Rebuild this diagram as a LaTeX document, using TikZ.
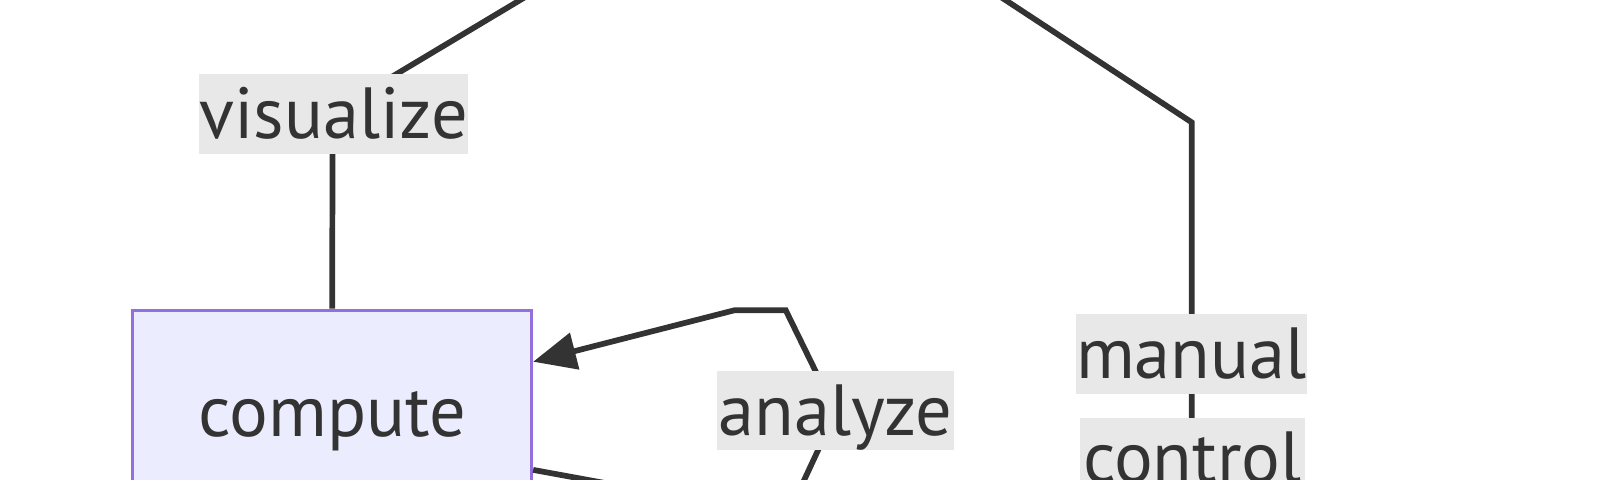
\documentclass[tikz,border=0pt]{standalone}
\usepackage{fontspec}
\setmainfont{PT Sans}
\usetikzlibrary{arrows.meta}
\definecolor{linec}{HTML}{333333}
\definecolor{lblbg}{HTML}{E8E8E8}
\definecolor{nodefill}{HTML}{ECECFF}
\definecolor{nodestroke}{HTML}{9370DB}
\tikzset{
  edge/.style={draw=linec, line width=2.8pt, line join=miter},
  arrowedge/.style={edge, -{Triangle[length=21pt,width=18pt]}},
  lbl/.style={fill=lblbg, text=linec, inner sep=0pt, text height=30pt, text depth=6pt,
    font=\fontsize{35.5}{38}\selectfont},
  procbox/.style={draw=nodestroke, fill=nodefill, line width=1.5pt, text=linec, inner sep=0pt,
    text height=30pt, text depth=6pt, font=\fontsize{35.5}{38}\selectfont},
}
\begin{document}
\begin{tikzpicture}[x=0.5pt,y=-0.5pt]
\useasboundingbox (0,0) rectangle (1568,470);
\clip (0,0) rectangle (1568,470);
\fill[white] (0,0) rectangle (1568,470);
% coordinates for off-picture ends
\coordinate (visTop) at (677,-100);
\coordinate (visBend) at (326,110);
\coordinate (anBottom) at (772,505);
\coordinate (anMid) at (819,404);
\coordinate (anC1) at (770,304);
\coordinate (anC2) at (720,304);
\coordinate (outEnd) at (640,482);
\coordinate (manTop) at (833,-100);
\coordinate (manBend) at (1168,120);
\coordinate (manBottom) at (1168,560);
% node
\node[procbox, minimum width=195.5pt, minimum height=100pt] (compute) at (325.5,404) {compute};
% edges
\draw[edge] (compute.north) -- (visBend) -- (visTop);
\draw[arrowedge] (anBottom) -- (anMid) -- (anC1) -- (anC2) -- ([yshift=-26pt]compute.north east);
\draw[edge] ([yshift=-79pt]compute.north east) -- (outEnd);
\draw[edge] (manTop) -- (manBend) -- (manBottom);
% labels
\node[lbl, minimum width=132pt, minimum height=39pt] (vis) at (327,112) {visualize};
\node[lbl, minimum width=116pt, minimum height=38.5pt] (an) at (819,402.5) {analyze};
\node[lbl, minimum width=111.5pt, minimum height=39pt] (man) at (1167.5,347) {manual};
\node[lbl, minimum width=110.5pt, minimum height=39pt] (ctl) at (1168.5,449) {control};
\end{tikzpicture}
\end{document}
